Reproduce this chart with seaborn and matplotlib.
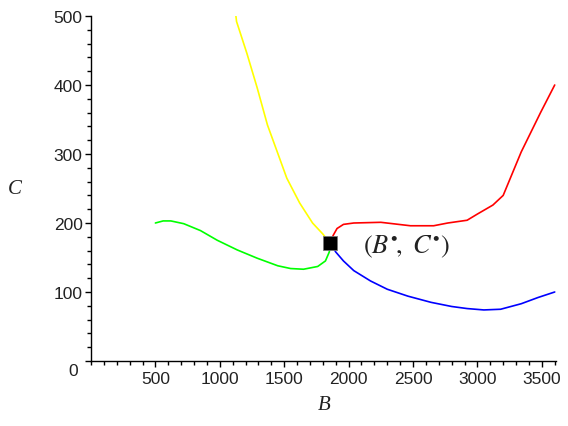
import matplotlib
matplotlib.use("Agg")
import matplotlib.pyplot as plt
import matplotlib.transforms as mtransforms
from matplotlib.ticker import MultipleLocator
import pandas as pd
import seaborn as sns

sns.set_style("white")
plt.rcParams["font.family"] = ["Liberation Sans", "DejaVu Sans"]
plt.rcParams["mathtext.fontset"] = "stix"

# ramos das curvas
b_amarelo = [1125, 1130, 1210, 1290, 1370, 1450, 1520, 1620, 1720, 1800, 1855]
c_amarelo = [500, 492, 446, 396, 342, 301, 265, 229, 200, 184, 171]

b_verde = [500, 560, 620, 720, 850, 980, 1135, 1290, 1450, 1550, 1650, 1760, 1820, 1850, 1858]
c_verde = [200, 203, 203, 199, 189, 175, 161, 149, 138, 134, 133, 137, 145, 158, 171]

b_azul = [1858, 1900, 1960, 2040, 2170, 2300, 2460, 2640, 2800, 2920, 3050, 3180, 3340, 3470, 3600]
c_azul = [171, 158, 145, 131, 116, 104, 94, 85, 79, 76, 74, 75, 83, 92, 100]

b_vermelho = [1858, 1880, 1910, 1960, 2040, 2250, 2480, 2660, 2770, 2920, 3000, 3120, 3200, 3340, 3490, 3600]
c_vermelho = [171, 182, 192, 198, 200, 201, 196, 196, 200, 204, 213, 226, 240, 303, 360, 400]

b_estrela = 1858
c_estrela = 171

ramos = {
    "amarelo": (b_amarelo, c_amarelo, "#ffff00"),
    "verde": (b_verde, c_verde, "#00ff00"),
    "azul": (b_azul, c_azul, "#0000ff"),
    "vermelho": (b_vermelho, c_vermelho, "#ff0000"),
}

fig = plt.figure(figsize=(5.68, 4.27), dpi=100)
ax = fig.add_axes([91 / 568, (427 - 362) / 427, (556 - 91) / 568, (362 - 17) / 427])

for nome, (bs, cs, cor) in ramos.items():
    df = pd.DataFrame({"B": bs, "C": cs})
    sns.lineplot(data=df, x="B", y="C", sort=False, estimator=None,
                 color=cor, linewidth=1.2, ax=ax)

ax.plot([b_estrela], [c_estrela], marker="s", markersize=9.5, color="black",
        markeredgecolor="#777777", markeredgewidth=0.6, zorder=5)
ax.text(2115, c_estrela - 4, r"$(B^{\bullet}\!,\ C^{\bullet})$", fontsize=19,
        va="center", ha="left", color="#222222")

ax.set_xlim(0, 3610)
ax.set_ylim(0, 500)
ax.xaxis.set_major_locator(MultipleLocator(500))
ax.xaxis.set_minor_locator(MultipleLocator(100))
ax.yaxis.set_major_locator(MultipleLocator(100))
ax.yaxis.set_minor_locator(MultipleLocator(20))
ax.set_xticks([500, 1000, 1500, 2000, 2500, 3000, 3500])
ax.set_xticklabels(["500", "1000", "1500", "2000", "2500", "3000", "3500"])

for s in ["top", "right"]:
    ax.spines[s].set_visible(False)
for s in ["left", "bottom"]:
    ax.spines[s].set_color("black")
    ax.spines[s].set_linewidth(1.0)

ax.tick_params(which="both", bottom=True, left=True, top=False, right=False)
ax.tick_params(which="major", direction="out", length=4.5, width=1, color="black",
               labelsize=12.5, labelcolor="#222222")
ax.tick_params(which="minor", direction="out", length=3, width=1, color="black")
ax.tick_params(axis="x", which="major", pad=3)
ax.tick_params(axis="y", which="major", pad=1.5)

# o zero fica um pouco abaixo e à esquerda, como no original
fig.canvas.draw()
for lbl in ax.get_yticklabels():
    if lbl.get_text() == "0":
        lbl.set_transform(lbl.get_transform() + mtransforms.ScaledTranslation(-5 / 100, -8 / 100, fig.dpi_scale_trans))

ax.set_xlabel("B", fontsize=15, fontstyle="italic", family="Liberation Serif", color="#222222")
ax.set_ylabel("C", fontsize=15, fontstyle="italic", family="Liberation Serif", rotation=0, color="#222222")
ax.xaxis.label.set_va("center")
ax.yaxis.label.set_va("center")
ax.xaxis.set_label_coords(0.501, -0.125)
ax.yaxis.set_label_coords(-0.163, 0.499)

fig.savefig("out.png", dpi=100)
